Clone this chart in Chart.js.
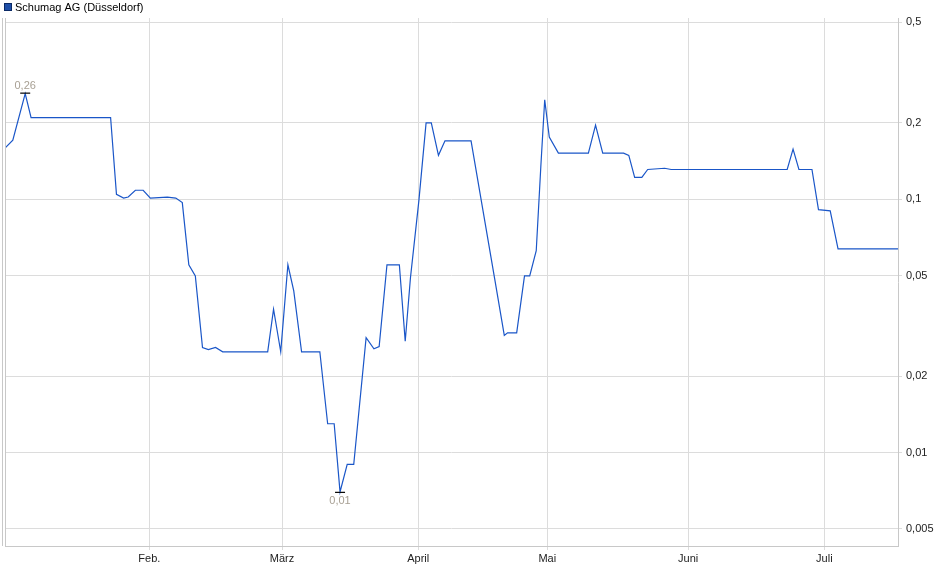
<!DOCTYPE html>
<html><head><meta charset="utf-8">
<script src="https://cdn.jsdelivr.net/npm/chart.js@4"></script>
<style>html,body{margin:0;padding:0;background:#fff}#w{width:940px;height:579px}</style>
</head><body><div id="w"><canvas id="c"></canvas></div>
<script>
const seriesName = "Schumag AG (Düsseldorf)";
const days = [0,1.2,3.1,4,16.2,17.1,18.2,18.9,20,21.2,22.3,24.9,26.2,27.2,28.2,29.2,30.3,31.2,32.3,33.4,40.3,41.2,42.3,43.4,44.3,45.5,48.3,49.5,50.5,51.4,52.5,53.5,55.4,56.6,57.4,58.6,60.5,61.4,62.2,63.5,64.6,65.4,66.5,67.5,71.5,75.1,76.6,77.1,78.5,79.7,80.5,81.5,82.2,82.8,83.5,84.9,88.2,89.5,90.6,91.7,94.9,95.7,96.6,97.7,98.6,101.2,102.2,120,120.9,121.8,123.8,124.8,126.6,127.8,137];
const prices = [0.159,0.171,0.261,0.21,0.21,0.1045,0.101,0.102,0.1085,0.1085,0.101,0.102,0.101,0.097,0.0551,0.0498,0.026,0.0255,0.026,0.025,0.025,0.0368,0.025,0.0551,0.0435,0.025,0.025,0.013,0.013,0.007,0.00898,0.00898,0.0284,0.0257,0.0262,0.0551,0.0551,0.0275,0.0489,0.099,0.20,0.20,0.149,0.170,0.170,0.0489,0.029,0.0297,0.0297,0.0498,0.0498,0.0626,0.134,0.247,0.176,0.152,0.152,0.152,0.196,0.152,0.152,0.149,0.122,0.122,0.131,0.1325,0.131,0.131,0.1577,0.131,0.131,0.091,0.090,0.0637,0.0637];
const monthLabels = ["Feb.","März","April","Mai","Juni","Juli"];
const monthPos = [22.15,42.5,63.4,83.2,104.8,125.7];
const yTicks = [0.005,0.01,0.02,0.05,0.1,0.2,0.5];
const hiLabel = "0,26", loLabel = "0,01";

const FONT = "'Liberation Sans', Arial, sans-serif";
const extras = {
  id:'extras',
  afterDraw(ch){
    const c = ch.ctx, a = ch.chartArea, xs = ch.scales.x, ys = ch.scales.y;
    c.save();
    c.strokeStyle='#c8c8c8'; c.lineWidth=1;
    c.beginPath(); c.moveTo(a.left+0.5,a.top); c.lineTo(a.left+0.5,a.bottom); c.stroke();
    c.beginPath(); c.moveTo(2.5,a.top); c.lineTo(2.5,a.bottom); c.stroke();
    // legend
    c.fillStyle='#1f4fa8'; c.fillRect(4,3,8,8);
    c.strokeStyle='#0b2a66'; c.strokeRect(4.5,3.5,7,7);
    c.fillStyle='#000'; c.font='11px '+FONT; c.textBaseline='middle'; c.textAlign='left';
    c.fillText(seriesName,15,7.5);
    // hi / lo markers
    let hi=0, lo=0;
    prices.forEach((p,i)=>{ if(p>prices[hi]) hi=i; if(p<prices[lo]) lo=i; });
    c.strokeStyle='#000'; c.lineWidth=1.2;
    const hx=xs.getPixelForValue(days[hi]), hy=ys.getPixelForValue(prices[hi]);
    c.beginPath(); c.moveTo(hx-5,hy-0.5); c.lineTo(hx+5,hy-0.5); c.stroke();
    const lx=xs.getPixelForValue(days[lo]), ly=ys.getPixelForValue(prices[lo]);
    c.beginPath(); c.moveTo(lx-5,ly+0.5); c.lineTo(lx+5,ly+0.5); c.stroke();
    c.fillStyle='#a8a094'; c.textAlign='center'; c.font='11px '+FONT;
    c.textBaseline='bottom'; c.fillText(hiLabel,hx,hy-2);
    c.textBaseline='top'; c.fillText(loLabel,lx,ly+4);
    c.restore();
  }
};

new Chart(document.getElementById('c'),{
  type:'line',
  data:{datasets:[{label:seriesName,data:days.map((d,i)=>({x:d,y:prices[i]})),
    borderColor:'#1a56c8',borderWidth:1.2,pointRadius:0,tension:0,fill:false}]},
  options:{
    responsive:true,maintainAspectRatio:false,animation:false,
    layout:{padding:{top:18,left:5,right:0,bottom:0}},
    plugins:{legend:{display:false},tooltip:{enabled:false}},
    scales:{
      x:{type:'linear',min:0,max:137,
        afterBuildTicks:s=>{s.ticks=monthPos.map(v=>({value:v}));},
        afterFit:s=>{s.height=33;},
        ticks:{autoSkip:false,maxRotation:0,padding:2,color:'#222',font:{family:FONT,size:11},
          callback:(v,i)=>monthLabels[i]},
        grid:{color:'#dcdcdc',drawTicks:true,tickLength:4},
        border:{color:'#c8c8c8'}},
      y:{type:'logarithmic',position:'right',min:0.00428,max:0.519,
        afterBuildTicks:s=>{s.ticks=yTicks.map(v=>({value:v}));},
        afterFit:s=>{s.width=42;},
        ticks:{autoSkip:false,padding:4,color:'#222',font:{family:FONT,size:11},
          callback:v=>String(v).replace('.',',')},
        grid:{color:'#dcdcdc',tickLength:4},
        border:{color:'#c8c8c8'}}
    }
  },
  plugins:[extras]
});
</script></body></html>
